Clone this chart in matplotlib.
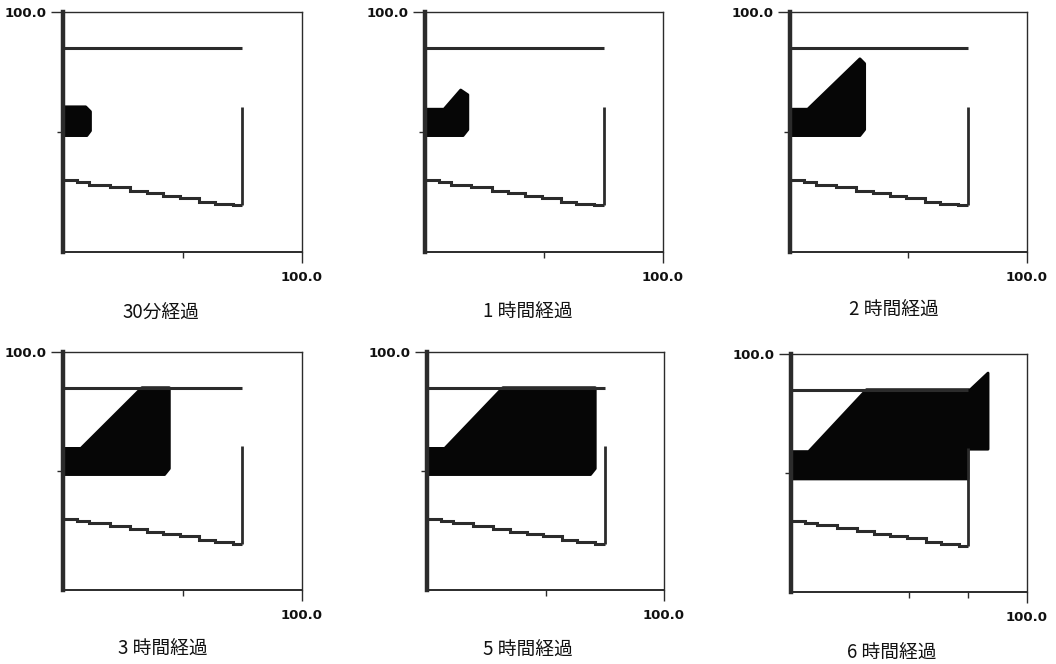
import matplotlib
matplotlib.use("Agg")
import matplotlib.pyplot as plt
from matplotlib.patches import Polygon

W, H = 1056, 664
INK = "#2b2b2b"
FILL = "#060606"

# captions under each panel
captions = ["30分経過", "1 時間経過", "2 時間経過", "3 時間経過", "5 時間経過", "6 時間経過"]

# fixed walls, same in every panel
top_wall_x = [0, 75]
top_wall_y = [85, 85]
right_wall_x = [75, 75]
right_wall_y = [19.5, 60.5]
slope_edges = [0, 6, 11, 19.5, 28, 35, 42, 49, 57, 63.5, 71, 75]
slope_vals = [30, 29, 28, 27, 25.5, 24.5, 23.5, 22.5, 21, 20, 19.5]

# spreading region (black area) per elapsed time
blob_30m_x = [0, 0, 9.5, 11.5, 11.5, 10]
blob_30m_y = [48.5, 60.5, 60.5, 58.5, 50.5, 48.5]
blob_1h_x = [0, 0, 8, 15, 18, 18, 16]
blob_1h_y = [48.5, 59.5, 59.5, 67.5, 65.5, 51, 48.5]
blob_2h_x = [0, 0, 7.5, 29.5, 31.5, 31.5, 29.5]
blob_2h_y = [48.5, 59.5, 59.5, 80.5, 78.5, 51, 48.5]
blob_3h_x = [0, 0, 7.5, 33, 44.5, 44.5, 42.5]
blob_3h_y = [48.5, 59.5, 59.5, 85, 85, 51, 48.5]
blob_5h_x = [0, 0, 7.5, 32, 71, 71, 69]
blob_5h_y = [48.5, 59.5, 59.5, 85, 85, 51, 48.5]
blob_6h_x = [0, 0, 7.5, 32, 76, 83.5, 83.5, 75, 75]
blob_6h_y = [47.5, 59, 59, 85, 85, 92, 60, 60, 47.5]
blobs = [(blob_30m_x, blob_30m_y), (blob_1h_x, blob_1h_y), (blob_2h_x, blob_2h_y),
         (blob_3h_x, blob_3h_y), (blob_5h_x, blob_5h_y), (blob_6h_x, blob_6h_y)]

minor_x = [[50], [50], [50], [50], [50], [50, 75]]

# panel boxes in pixels: left, top, right, bottom ; caption centre
boxes = [(63, 12, 302, 252), (425, 12, 663, 252), (790, 12, 1027, 252),
         (63, 352, 302, 590), (427, 352, 664, 590), (791, 354, 1027, 592)]
cap_pos = [(161, 313), (528, 312), (894, 310), (163, 649), (528, 650), (892, 653)]

fig = plt.figure(figsize=(W / 100, H / 100), dpi=100)
fig.patch.set_facecolor("white")

for i, (l, t, r, b) in enumerate(boxes):
    ax = fig.add_axes([l / W, 1 - b / H, (r - l) / W, (b - t) / H])
    ax.set_xlim(0, 100)
    ax.set_ylim(0, 100)

    bx, by = blobs[i]
    ax.add_patch(Polygon(list(zip(bx, by)), closed=True, facecolor=FILL,
                         edgecolor=FILL, linewidth=2, joinstyle="round", zorder=2))
    ax.plot(top_wall_x, top_wall_y, color=INK, lw=2.2, solid_capstyle="butt", zorder=3)
    ax.plot(right_wall_x, right_wall_y, color=INK, lw=2.0, solid_capstyle="butt", zorder=3)
    ax.stairs(slope_vals, slope_edges, baseline=None, color=INK, lw=2.2, zorder=3)

    for s in ["top", "right"]:
        ax.spines[s].set_linewidth(1.0)
        ax.spines[s].set_color(INK)
    ax.spines["bottom"].set_linewidth(1.4)
    ax.spines["bottom"].set_color(INK)
    ax.spines["left"].set_linewidth(3.2)
    ax.spines["left"].set_color(INK)

    ax.set_xticks([100])
    ax.set_xticklabels(["100.0"])
    ax.set_yticks([100])
    ax.set_yticklabels(["100.0"])
    ax.set_xticks(minor_x[i], minor=True)
    ax.set_yticks([50], minor=True)
    ax.tick_params(which="major", axis="x", length=8, width=1, color=INK, pad=6)
    ax.tick_params(which="major", axis="y", length=9, width=1, color=INK, pad=3)
    ax.tick_params(which="minor", length=4, width=1, color=INK)
    for lab in ax.get_xticklabels() + ax.get_yticklabels():
        lab.set_fontweight("bold")
        lab.set_fontsize(9.5)
        lab.set_color("#111111")

    cx, cy = cap_pos[i]
    fig.text(cx / W, 1 - cy / H, captions[i], ha="center", va="center",
             fontsize=13.5, color="#111111", family=["Noto Sans CJK JP", "DejaVu Sans"])

fig.savefig("out.png", dpi=100, facecolor="white")
